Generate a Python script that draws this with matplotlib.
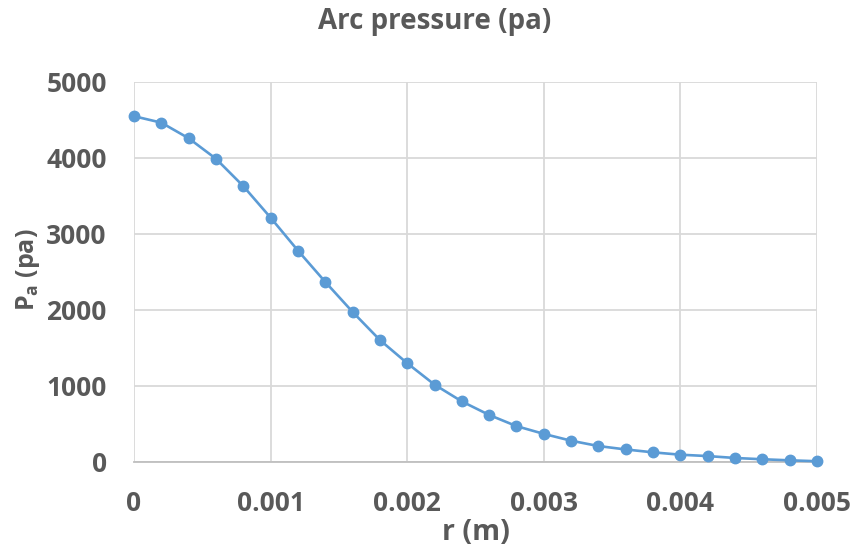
import matplotlib
matplotlib.use("Agg")
from matplotlib import pyplot as plt

# data
r = [0, 0.0002, 0.0004, 0.0006, 0.0008, 0.001, 0.0012, 0.0014, 0.0016, 0.0018,
     0.002, 0.0022, 0.0024, 0.0026, 0.0028, 0.003, 0.0032, 0.0034, 0.0036, 0.0038,
     0.004, 0.0042, 0.0044, 0.0046, 0.0048, 0.005]
pa = [4550, 4465, 4260, 3990, 3630, 3215, 2782, 2370, 1975, 1605,
      1300, 1018, 797, 619, 472, 370, 280, 210, 165, 127,
      96, 78, 53, 36, 22, 10]
xticks = [0, 0.001, 0.002, 0.003, 0.004, 0.005]
xticklabels = ["0", "0.001", "0.002", "0.003", "0.004", "0.005"]
yticks = [0, 1000, 2000, 3000, 4000, 5000]

gray = "#595959"
blue = "#5B9BD5"

plt.rcParams["font.family"] = ["Open Sans", "DejaVu Sans"]

fig = plt.figure(figsize=(8.51, 5.52), dpi=100)
ax = fig.add_axes([134/851, 1-462/552, (817-134)/851, (462-82)/552])

ax.plot(r, pa, color=blue, lw=1.9, marker="o", ms=7.5, zorder=3, clip_on=False)

ax.set_xlim(0, 0.005)
ax.set_ylim(0, 5000)
ax.set_xticks(xticks)
ax.set_xticklabels(xticklabels)
ax.set_yticks(yticks)
ax.grid(True, color="#D9D9D9", lw=1.3)
ax.set_axisbelow(True)
for s in ["top", "right", "left"]:
    ax.spines[s].set_visible(False)
ax.spines["bottom"].set_color("#BFBFBF")
ax.spines["bottom"].set_linewidth(1.3)
ax.tick_params(length=0, colors=gray, labelsize=19)
for t in ax.get_yticklabels() + ax.get_xticklabels():
    t.set_fontweight("bold")
ax.tick_params(axis="y", pad=19.5)
ax.tick_params(axis="x", pad=20)

fig.text(435/851, 1-22/552, "Arc pressure (pa)", ha="center", va="center",
         fontsize=20, fontweight="bold", color=gray)
fig.text(476/851, 1-532/552, "r (m)", ha="center", va="center",
         fontsize=20.5, fontweight="bold", color=gray)
fig.text(28/851, 1-270/552, r"P$_\mathregular{a}$ (pa)", ha="center", va="center",
         rotation=90, fontsize=18, fontweight="bold", color=gray)

fig.savefig("out.png", dpi=100)
